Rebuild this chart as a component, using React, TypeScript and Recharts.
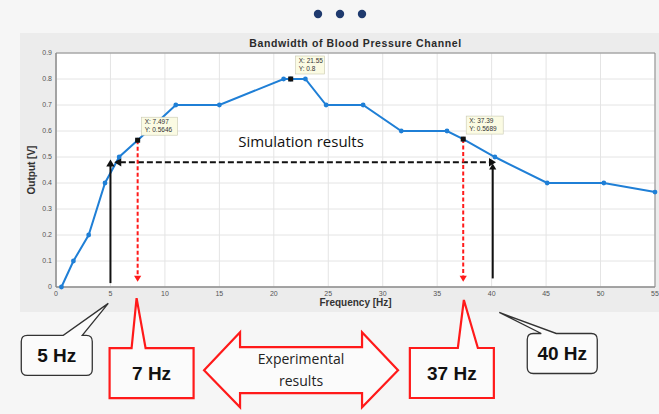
import React from 'react';
import {
  ComposedChart,
  Line,
  XAxis,
  YAxis,
  CartesianGrid,
  ReferenceDot,
  ReferenceLine,
  ReferenceArea,
} from 'recharts';

// ---------- data ----------
const freqHz = [0.5, 1.6, 3, 4.5, 5.8, 7.497, 11, 15, 20.9, 21.55, 22.9, 24.8, 28.2, 31.7, 35.9, 37.39, 40.3, 45.1, 50.3, 55];
const outputV = [0, 0.1, 0.2, 0.4, 0.5, 0.5646, 0.7, 0.7, 0.8, 0.8, 0.8, 0.7, 0.7, 0.6, 0.6, 0.5689, 0.5, 0.4, 0.4, 0.365];
const xTicks = [0, 5, 10, 15, 20, 25, 30, 35, 40, 45, 50, 55];
const yTicks = [0, 0.1, 0.2, 0.3, 0.4, 0.5, 0.6, 0.7, 0.8, 0.9];

const dataTipX = [7.497, 21.55, 37.39];
const dataTipY = [0.5646, 0.8, 0.5689];
const dataTipXText = ['X: 7.497', 'X: 21.55', 'X: 37.39'];
const dataTipYText = ['Y: 0.5646', 'Y: 0.8', 'Y: 0.5689'];

const simCutoffHz = [5, 40.1];
const simLevel = 0.48;
const expCutoffHz = [7.497, 37.39];
const expCutoffV = [0.5646, 0.5689];

const calloutLabels = ['5 Hz', '7 Hz', '37 Hz', '40 Hz'];
const calloutTipHz = [4.8, 7.4, 37.45, 40.7];
const calloutTipV = [-0.063, -0.043, -0.05, -0.098];

const chartData = freqHz.map((f, i) => ({ f, v: outputV[i] }));

const W = 659;
const H = 414;
const BLUE = '#1f7fd6';
const RED = '#ff1a1a';

// ---------- shapes ----------
function head(x: number, y: number, dir: 'up' | 'down' | 'left' | 'right', s: number, color: string, key: string) {
  let pts = '';
  if (dir === 'up') pts = `${x},${y} ${x - s * 0.6},${y + s} ${x + s * 0.6},${y + s}`;
  if (dir === 'down') pts = `${x},${y} ${x - s * 0.6},${y - s} ${x + s * 0.6},${y - s}`;
  if (dir === 'left') pts = `${x},${y} ${x + s},${y - s * 0.6} ${x + s},${y + s * 0.6}`;
  if (dir === 'right') pts = `${x},${y} ${x - s},${y - s * 0.6} ${x - s},${y + s * 0.6}`;
  return <polygon key={key} points={pts} fill={color} />;
}

const makeArrow = (color: string, dash: string | undefined, width: number, startHead: boolean, endHead: boolean, size: number) =>
  (p: any) => {
    const { x1, y1, x2, y2 } = p;
    const vertical = Math.abs(x1 - x2) < 0.5;
    const parts: any[] = [];
    let ax1 = x1, ay1 = y1, ax2 = x2, ay2 = y2;
    if (vertical) {
      const d2 = y2 < y1 ? 'up' : 'down';
      const d1 = y2 < y1 ? 'down' : 'up';
      if (endHead) { ay2 = y2 + (d2 === 'up' ? size : -size) * 0.8; parts.push(head(x2, y2, d2, size, color, 'e')); }
      if (startHead) { ay1 = y1 + (d1 === 'up' ? size : -size) * 0.8; parts.push(head(x1, y1, d1, size, color, 's')); }
    } else {
      const d2 = x2 > x1 ? 'right' : 'left';
      const d1 = x2 > x1 ? 'left' : 'right';
      if (endHead) { ax2 = x2 + (d2 === 'right' ? -size : size) * 0.8; parts.push(head(x2, y2, d2, size, color, 'e')); }
      if (startHead) { ax1 = x1 + (d1 === 'right' ? -size : size) * 0.8; parts.push(head(x1, y1, d1, size, color, 's')); }
    }
    return (
      <g>
        <line x1={ax1} y1={ay1} x2={ax2} y2={ay2} stroke={color} strokeWidth={width} strokeDasharray={dash} />
        {parts}
      </g>
    );
  };

const DataTip = (i: number) => (p: any) => {
  const { cx, cy } = p;
  const dx = [4, 5, 3][i];
  const w = [36, 29, 37][i];
  return (
    <g>
      <rect x={cx + dx} y={cy - 23} width={w} height={18} fill="#fbfbe3" stroke="#c8c8b0" strokeWidth={0.6} />
      <text x={cx + dx + 3} y={cy - 16} fontSize={6.5} fontFamily="Liberation Sans, Arial" fill="#333">{dataTipXText[i]}</text>
      <text x={cx + dx + 3} y={cy - 8.5} fontSize={6.5} fontFamily="Liberation Sans, Arial" fill="#333">{dataTipYText[i]}</text>
      <rect x={cx - 2.5} y={cy - 2.5} width={5} height={5} fill="#111" />
    </g>
  );
};

// callout box geometry relative to the tail tip
const calloutGeo = [
  { bx: -87, bw: 71, by: 32, bh: 40, t1: -45, t2: -26, r: 6, color: '#333', sw: 1.3 },
  { bx: -27, bw: 84, by: 50, bh: 50, t1: -5, t2: 9, r: 0, color: RED, sw: 2.2 },
  { bx: -54, bw: 84, by: 48, bh: 50, t1: -6, t2: 14, r: 0, color: RED, sw: 2.2 },
  { bx: 28, bw: 70, by: 21, bh: 40, t1: 42, t2: 57, r: 6, color: '#333', sw: 1.3 },
];

const Callout = (i: number) => (p: any) => {
  const { cx, cy } = p;
  const g = calloutGeo[i];
  const x = cx + g.bx;
  const y = cy + g.by;
  const w = g.bw;
  const h = g.bh;
  const r = g.r;
  const a = cx + g.t1;
  const b = cx + g.t2;
  const d = [
    `M ${x + r} ${y}`,
    `L ${a} ${y}`,
    `L ${cx} ${cy}`,
    `L ${b} ${y}`,
    `L ${x + w - r} ${y}`,
    r ? `Q ${x + w} ${y} ${x + w} ${y + r}` : '',
    `L ${x + w} ${y + h - r}`,
    r ? `Q ${x + w} ${y + h} ${x + w - r} ${y + h}` : '',
    `L ${x + r} ${y + h}`,
    r ? `Q ${x} ${y + h} ${x} ${y + h - r}` : '',
    `L ${x} ${y + r}`,
    r ? `Q ${x} ${y} ${x + r} ${y}` : '',
    'Z',
  ].join(' ');
  return (
    <g>
      <path d={d} fill="#fbfbfb" stroke={g.color} strokeWidth={g.sw} strokeLinejoin="miter" />
      <text x={x + w / 2} y={y + h / 2 + 6.5} textAnchor="middle" fontSize={19} fontWeight="bold" fontFamily="Liberation Sans, Arial" fill="#111">
        {calloutLabels[i]}
      </text>
    </g>
  );
};

const ExpArrow = (p: any) => {
  const { cx, cy } = p;
  const pts = [
    [cx - 97, cy],
    [cx - 61, cy - 38],
    [cx - 61, cy - 23],
    [cx + 61, cy - 23],
    [cx + 61, cy - 38],
    [cx + 97, cy],
    [cx + 61, cy + 37],
    [cx + 61, cy + 23],
    [cx - 61, cy + 23],
    [cx - 61, cy + 37],
  ]
    .map((q) => q.join(','))
    .join(' ');
  return (
    <g>
      <polygon points={pts} fill="#fbfbfb" stroke={RED} strokeWidth={2.2} />
      <text x={cx} y={cy - 6} textAnchor="middle" fontSize={14} fontFamily="Open Sans, Liberation Sans" fill="#222">Experimental</text>
      <text x={cx} y={cy + 16} textAnchor="middle" fontSize={14} fontFamily="Open Sans, Liberation Sans" fill="#222">results</text>
    </g>
  );
};

const SimText = (p: any) => {
  const { cx, cy } = p;
  return (
    <text x={cx} y={cy} textAnchor="middle" fontSize={15} fontFamily="Open Sans, Liberation Sans" fill="#111">
      Simulation results
    </text>
  );
};

const XLabel = (p: any) => {
  const vb = p.viewBox;
  return (
    <text x={vb.x + vb.width / 2} y={306} textAnchor="middle" fontSize={10} fontWeight="bold" fontFamily="Liberation Sans, Arial" fill="#333">
      Frequency [Hz]
    </text>
  );
};

const YLabel = (p: any) => {
  const vb = p.viewBox;
  const cy = vb.y + vb.height / 2;
  return (
    <text x={35} y={cy} transform={`rotate(-90 35 ${cy})`} textAnchor="middle" fontSize={10} fontWeight="bold" fontFamily="Liberation Sans, Arial" fill="#333">
      Output [V]
    </text>
  );
};

export default function App() {
  return (
    <div style={{ position: 'absolute', left: 0, top: 0, width: W, height: H, background: '#f6f6f6', overflow: 'hidden' }}>
      {/* figure window */}
      <div style={{ position: 'absolute', left: 20, top: 33, width: 639, height: 279, background: '#ececec' }} />
      {/* three dots */}
      <svg style={{ position: 'absolute', left: 0, top: 0 }} width={W} height={30}>
        <circle cx={318} cy={14} r={4.2} fill="#1f3a6e" />
        <circle cx={340} cy={14} r={4.2} fill="#1f3a6e" />
        <circle cx={362} cy={14} r={4.2} fill="#1f3a6e" />
      </svg>
      {/* title */}
      <div
        style={{
          position: 'absolute',
          left: 56,
          width: 599,
          top: 37,
          textAlign: 'center',
          fontFamily: 'Liberation Sans, Arial',
          fontWeight: 'bold',
          fontSize: 10.5,
          color: '#2a2a2a',
          letterSpacing: 0.6,
        }}
      >
        Bandwidth of Blood Pressure Channel
      </div>
      <div style={{ position: 'absolute', left: 0, top: 0 }}>
        <ComposedChart width={W} height={H} data={chartData} margin={{ top: 53, right: 4, left: 0, bottom: 0 }}>
          <CartesianGrid stroke="#e4e4e4" fill="#ffffff" verticalValues={xTicks} horizontalValues={yTicks} />
          <XAxis
            dataKey="f"
            type="number"
            domain={[0, 55]}
            ticks={xTicks}
            height={127}
            tickSize={0}
            tickMargin={4}
            axisLine={{ stroke: '#8a8a8a' }}
            tick={{ fontSize: 7, fill: '#555', fontFamily: 'Liberation Sans, Arial' }}
            label={<XLabel />}
          />
          <YAxis
            type="number"
            domain={[0, 0.9]}
            ticks={yTicks}
            width={56}
            tickSize={0}
            tickMargin={4}
            axisLine={{ stroke: '#8a8a8a' }}
            tick={{ fontSize: 7, fill: '#555', fontFamily: 'Liberation Sans, Arial' }}
            label={<YLabel />}
          />
          <ReferenceArea x1={0} x2={55} y1={0} y2={0.9} fill="none" stroke="#8a8a8a" strokeWidth={1} ifOverflow="visible" />
          <Line
            type="linear"
            dataKey="v"
            stroke={BLUE}
            strokeWidth={2}
            dot={{ r: 2.4, fill: BLUE, stroke: BLUE, strokeWidth: 0 }}
            isAnimationActive={false}
          />
          {/* simulation cutoff: black arrows */}
          <ReferenceLine
            segment={[{ x: simCutoffHz[0], y: 0.015 }, { x: simCutoffHz[0], y: 0.49 }]}
            ifOverflow="visible"
            shape={makeArrow('#111', undefined, 2, false, true, 7)}
          />
          <ReferenceLine
            segment={[{ x: simCutoffHz[1], y: 0.033 }, { x: simCutoffHz[1], y: 0.475 }]}
            ifOverflow="visible"
            shape={makeArrow('#111', undefined, 2, false, true, 6)}
          />
          <ReferenceLine
            segment={[{ x: simCutoffHz[0] + 0.35, y: simLevel }, { x: simCutoffHz[1] + 0.3, y: simLevel }]}
            ifOverflow="visible"
            shape={makeArrow('#111', '6 3', 2, true, true, 7)}
          />
          {/* experimental cutoff: red dashed arrows */}
          <ReferenceLine
            segment={[{ x: expCutoffHz[0], y: expCutoffV[0] }, { x: expCutoffHz[0], y: 0.02 }]}
            ifOverflow="visible"
            shape={makeArrow(RED, '4 2.5', 2, false, true, 6)}
          />
          <ReferenceLine
            segment={[{ x: expCutoffHz[1], y: expCutoffV[1] }, { x: expCutoffHz[1], y: 0.02 }]}
            ifOverflow="visible"
            shape={makeArrow(RED, '4 2.5', 2, false, true, 6)}
          />
          {/* data tips */}
          {dataTipX.map((x, i) => (
            <ReferenceDot key={`dt${i}`} x={x} y={dataTipY[i]} ifOverflow="visible" shape={DataTip(i)} />
          ))}
          <ReferenceDot x={22.5} y={0.54} ifOverflow="visible" shape={SimText} />
          {/* callouts below the axes */}
          {calloutTipHz.map((x, i) => (
            <ReferenceDot key={`co${i}`} x={x} y={calloutTipV[i]} ifOverflow="visible" shape={Callout(i)} />
          ))}
          <ReferenceDot x={22.5} y={-0.32} ifOverflow="visible" shape={ExpArrow} />
        </ComposedChart>
      </div>
    </div>
  );
}
